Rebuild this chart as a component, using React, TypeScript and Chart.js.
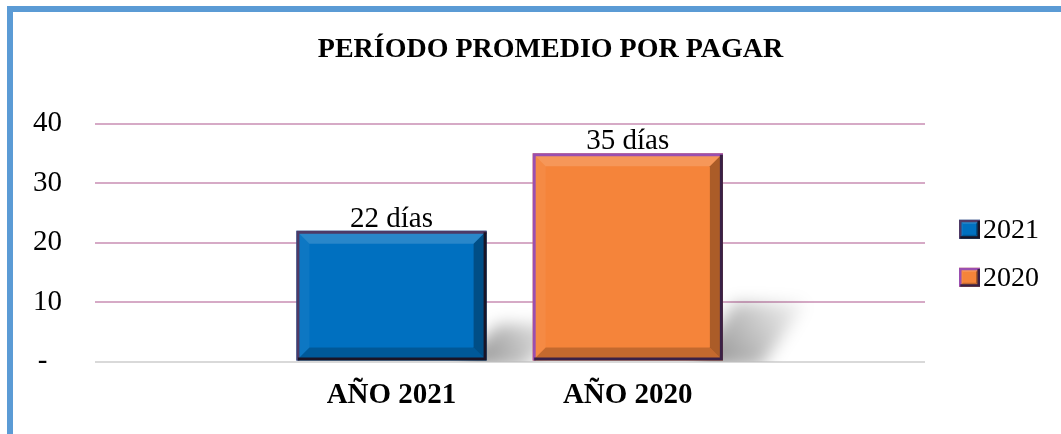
import { useEffect, useRef } from 'react';
import { Chart, registerables } from 'chart.js';

Chart.register(...registerables);

const titleText = 'PERÍODO PROMEDIO POR PAGAR';
const categories = ['AÑO 2021', 'AÑO 2020'];
const seriesLabels = ['2021', '2020'];
const values = [22, 35];
const valueSuffix = ' días';
const yTicks = [0, 10, 20, 30, 40];

const faceColors = ['#0070C0', '#F5843A'];
const edgeLight = ['#4E3A66', '#9A4FB0'];
const edgeDark = ['#1A1426', '#3A2046'];
const FONT = "'Liberation Serif', 'Times New Roman', serif";

function bevelRect(ctx: CanvasRenderingContext2D, L: number, T: number, R: number, B: number, b: number, light: string, dark: string, lw: number) {
  const poly = (pts: number[][], fill: string) => {
    ctx.beginPath();
    ctx.moveTo(pts[0][0], pts[0][1]);
    for (let i = 1; i < pts.length; i++) ctx.lineTo(pts[i][0], pts[i][1]);
    ctx.closePath();
    ctx.fillStyle = fill;
    ctx.fill();
  };
  poly([[L, T], [R, T], [R - b, T + b], [L + b, T + b]], 'rgba(255,255,255,0.16)');
  poly([[L, T], [L + b, T + b], [L + b, B - b], [L, B]], 'rgba(255,255,255,0.05)');
  poly([[R, T], [R, B], [R - b, B - b], [R - b, T + b]], 'rgba(0,0,0,0.30)');
  poly([[L, B], [R, B], [R - b, B - b], [L + b, B - b]], 'rgba(0,0,0,0.20)');
  ctx.lineWidth = lw;
  ctx.lineJoin = 'miter';
  ctx.strokeStyle = light;
  ctx.beginPath();
  ctx.moveTo(L + lw / 2, B);
  ctx.lineTo(L + lw / 2, T + lw / 2);
  ctx.lineTo(R, T + lw / 2);
  ctx.stroke();
  ctx.strokeStyle = dark;
  ctx.beginPath();
  ctx.moveTo(R - lw / 2, T + lw / 2);
  ctx.lineTo(R - lw / 2, B - lw / 2);
  ctx.lineTo(L + lw / 2, B - lw / 2);
  ctx.stroke();
}

export default function App() {
  const ref = useRef<HTMLCanvasElement>(null);

  useEffect(() => {
    const canvas = ref.current;
    if (!canvas) return;

    const shadowPlugin = {
      id: 'barShadow',
      beforeDatasetsDraw(chart: any) {
        const ctx: CanvasRenderingContext2D = chart.ctx;
        const area = chart.chartArea;
        const meta = chart.getDatasetMeta(0);
        meta.data.forEach((bar: any) => {
          const { x, y, base, width } = bar.getProps(['x', 'y', 'base', 'width'], true);
          const R = x + width / 2;
          const h = base - y;
          const top = base - h * 0.28;
          ctx.save();
          ctx.beginPath();
          ctx.rect(area.left, area.top, area.right - area.left, area.bottom - area.top);
          ctx.clip();
          ctx.filter = 'blur(8px)';
          const g = ctx.createLinearGradient(R, base, R + width * 0.42, top);
          g.addColorStop(0, 'rgba(0,0,0,0.38)');
          g.addColorStop(1, 'rgba(0,0,0,0.04)');
          ctx.fillStyle = g;
          ctx.beginPath();
          ctx.moveTo(R - width * 0.15, base + 6);
          ctx.lineTo(R + width * 0.2, base + 6);
          ctx.lineTo(R + width * 0.44, top);
          ctx.lineTo(R + width * 0.06, top);
          ctx.closePath();
          ctx.fill();
          ctx.restore();
        });
      },
    };

    const bevelPlugin = {
      id: 'barBevel',
      afterDatasetsDraw(chart: any) {
        const ctx: CanvasRenderingContext2D = chart.ctx;
        const meta = chart.getDatasetMeta(0);
        meta.data.forEach((bar: any, i: number) => {
          const { x, y, base, width } = bar.getProps(['x', 'y', 'base', 'width'], true);
          const L = x - width / 2;
          const R = x + width / 2;
          ctx.save();
          bevelRect(ctx, L, y, R, base, 13, edgeLight[i], edgeDark[i], 3);
          ctx.fillStyle = '#000';
          ctx.font = `29px ${FONT}`;
          ctx.textAlign = 'center';
          ctx.textBaseline = 'alphabetic';
          ctx.fillText(`${values[i]}${valueSuffix}`, x, y - 4);
          ctx.restore();
        });
      },
    };

    const legendPlugin = {
      id: 'sideLegend',
      afterDraw(chart: any) {
        const ctx: CanvasRenderingContext2D = chart.ctx;
        const area = chart.chartArea;
        const mid = (area.top + area.bottom) / 2 + 10.75;
        seriesLabels.forEach((label, i) => {
          const cy = mid + (i - 0.5) * 48;
          const bx = area.right + 34;
          const bw = 21;
          const bh = 19;
          ctx.save();
          ctx.fillStyle = faceColors[i];
          ctx.fillRect(bx, cy - bh / 2, bw, bh);
          bevelRect(ctx, bx, cy - bh / 2, bx + bw, cy + bh / 2, 4, edgeLight[i], edgeDark[i], 2.5);
          ctx.fillStyle = '#000';
          ctx.font = `28px ${FONT}`;
          ctx.textAlign = 'left';
          ctx.textBaseline = 'middle';
          ctx.fillText(label, bx + bw + 3, cy + 1);
          ctx.restore();
        });
      },
    };

    const chart = new Chart(canvas, {
      type: 'bar',
      data: {
        datasets: [
          {
            label: titleText,
            data: values.map((v, i) => ({ x: i, y: v })),
            backgroundColor: faceColors,
            borderWidth: 0,
            categoryPercentage: 1,
            barPercentage: 0.805,
          },
        ],
      },
      options: {
        animation: false,
        responsive: true,
        maintainAspectRatio: false,
        events: [],
        layout: { padding: { left: 0, right: 0, top: 0, bottom: 3.5 } },
        plugins: {
          legend: { display: false },
          tooltip: { enabled: false },
          title: {
            display: true,
            text: titleText,
            color: '#000',
            font: { family: FONT, size: 28, weight: 'bold' },
            padding: { top: 33, bottom: 57 },
          },
        },
        scales: {
          x: {
            type: 'linear',
            min: -1.255,
            max: 2.258,
            offset: false,
            grid: { display: false, drawTicks: false },
            border: { display: false },
            afterBuildTicks: (s: any) => {
              s.ticks = categories.map((_, i) => ({ value: i }));
            },
            afterFit: (s: any) => {
              s.height = 69;
            },
            ticks: {
              color: '#000',
              font: { family: FONT, size: 29, weight: 'bold' },
              padding: 16.6,
              maxRotation: 0,
              autoSkip: false,
              callback: (v: any) => categories[Number(v)] ?? '',
            },
          },
          y: {
            position: 'left',
            min: 0,
            max: 40,
            afterBuildTicks: (s: any) => {
              s.ticks = yTicks.map((v) => ({ value: v }));
            },
            afterFit: (s: any) => {
              s.width = 95;
            },
            grid: {
              drawTicks: false,
              lineWidth: 2,
              color: (c: any) => (c.tick && c.tick.value === 0 ? '#D9D9D9' : '#D6AAC6'),
            },
            border: { display: false },
            ticks: {
              color: '#000',
              font: { family: FONT, size: 29 },
              padding: 33,
              callback: (v: any) => (Number(v) === 0 ? '-  ' : String(v)),
            },
          },
          yRight: {
            position: 'right',
            display: true,
            grid: { display: false, drawTicks: false },
            border: { display: false },
            ticks: { display: false },
            afterFit: (s: any) => {
              s.width = 176;
            },
          },
        },
      } as any,
      plugins: [shadowPlugin, bevelPlugin, legendPlugin],
    });

    return () => chart.destroy();
  }, []);

  return (
    <>
      <div
        style={{
          position: 'fixed',
          left: 7,
          top: 6,
          width: 1200,
          height: 600,
          borderLeft: '6px solid #5B9BD5',
          borderTop: '6px solid #5B9BD5',
          background: '#fff',
        }}
      />
      <div style={{ position: 'fixed', left: 0, top: 0, width: 1101, height: 434 }}>
        <canvas ref={ref} />
      </div>
    </>
  );
}
